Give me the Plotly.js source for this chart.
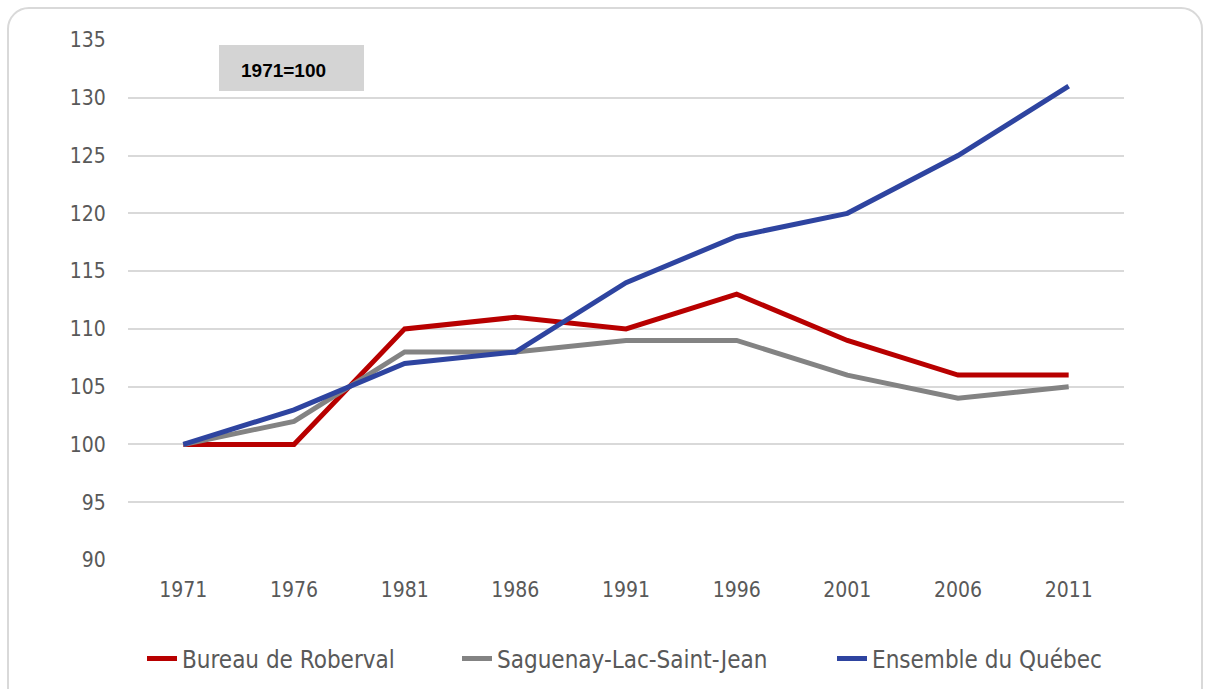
<!DOCTYPE html>
<html>
<head>
<meta charset="utf-8">
<script src="https://cdn.plot.ly/plotly-3.0.1.min.js"></script>
<style>
  html, body { margin: 0; padding: 0; background: #ffffff; }
  #wrap { position: relative; width: 1208px; height: 689px; overflow: hidden; }
  #chart { position: absolute; left: 0; top: 0; width: 1208px; height: 689px; }
  #frame { position: absolute; left: 7px; top: 7px; width: 1196px; height: 720px;
           border: 2px solid #d9d9d9; border-radius: 22px; box-sizing: border-box; pointer-events: none; }
</style>
</head>
<body>
<div id="wrap">
  <div id="chart"></div>
  <div id="frame"></div>
</div>
<script>
const years = ["1971", "1976", "1981", "1986", "1991", "1996", "2001", "2006", "2011"];
const roberval = [100, 100, 110, 111, 110, 113, 109, 106, 106];
const saguenay = [100, 102, 108, 108, 109, 109, 106, 104, 105];
const quebec = [100, 103, 107, 108, 114, 118, 120, 125, 131];
const seriesNames = ["Bureau de Roberval", "Saguenay-Lac-Saint-Jean", "Ensemble du Québec"];
const yTicks = [90, 95, 100, 105, 110, 115, 120, 125, 130, 135];
const baseLabel = "1971=100";

const font = "DejaVu Sans Condensed, DejaVu Sans, sans-serif";
function tr(y, name, color, legendId) {
  return { type: "scatter", mode: "lines", x: years, y: y, name: name, legend: legendId,
           line: { color: color, width: 5 } };
}
const data = [
  tr(roberval, seriesNames[0], "#b80000", "legend"),
  tr(saguenay, seriesNames[1], "#838383", "legend2"),
  tr(quebec, seriesNames[2], "#2e44a0", "legend3")
];
const px = v => (v - 128) / 996;
const py = v => (560 - v) / 520;
function leg(xText) {
  return { orientation: "h", x: px(xText - 40), xanchor: "left", y: py(659), yanchor: "middle",
           bgcolor: "rgba(0,0,0,0)", font: { family: font, size: 24, color: "#595959" } };
}
const layout = {
  width: 1208, height: 689,
  margin: { l: 128, r: 84, t: 40, b: 129, autoexpand: false },
  paper_bgcolor: "rgba(0,0,0,0)", plot_bgcolor: "rgba(0,0,0,0)",
  showlegend: true,
  legend: leg(182),
  legend2: leg(497),
  legend3: leg(872),
  xaxis: { type: "category", range: [-0.5, 8.5], showgrid: false, zeroline: false, showline: false,
           automargin: false, ticks: "outside", ticklen: 11, tickcolor: "rgba(0,0,0,0)",
           tickfont: { family: font, size: 21, color: "#595959" } },
  yaxis: { range: [90, 135], tickvals: yTicks, showgrid: true, gridcolor: "#d9d9d9", gridwidth: 2,
           automargin: false, zeroline: false, showline: false, ticks: "outside", ticklen: 17,
           tickcolor: "rgba(0,0,0,0)", tickfont: { family: font, size: 21, color: "#595959" } },
  shapes: [{
    type: "rect", xref: "paper", yref: "paper", x0: px(219), x1: px(364), y0: py(91), y1: py(45),
    fillcolor: "#d4d4d4", line: { width: 0 }, layer: "above"
  }],
  annotations: [{
    xref: "paper", yref: "paper", x: px(239), y: py(70),
    xanchor: "left", yanchor: "middle", showarrow: false,
    text: "<b>" + baseLabel + "</b>",
    font: { family: "Liberation Sans, Arial, sans-serif", size: 19, color: "#000000" }
  }]
};
Plotly.newPlot("chart", data, layout, { displayModeBar: false, staticPlot: true });
</script>
</body>
</html>
